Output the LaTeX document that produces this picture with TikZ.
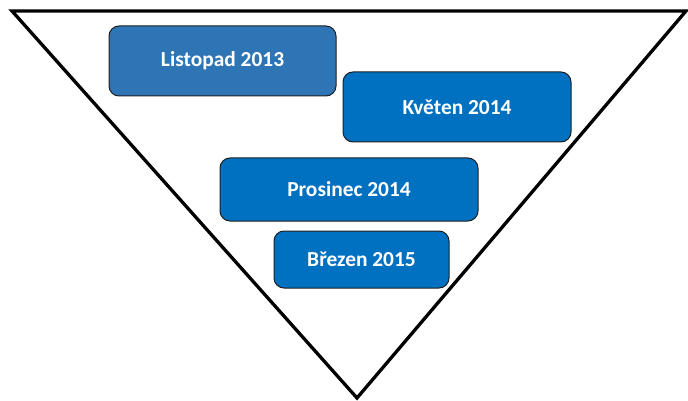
\documentclass[tikz,border=0pt]{standalone}
\usepackage{fontspec}
\setmainfont{Carlito}
\definecolor{boxA}{HTML}{2E75B6}
\definecolor{boxB}{HTML}{0070C0}
\definecolor{edge}{HTML}{1F1F1F}
\begin{document}
\begin{tikzpicture}[x=1pt,y=-1pt,
  phase/.style={draw=edge, line width=1pt, rounded corners=10pt, fill=boxB,
    text=white, font=\fontsize{21.4}{25}\selectfont\bfseries, inner sep=0pt},
  funnel/.style={draw=black, line width=3.3pt, line join=miter}]
  \useasboundingbox (0,0) rectangle (688,401);
  % inverted triangle
  \coordinate (tl) at (12,11);
  \coordinate (tr) at (686,11);
  \coordinate (bt) at (357,398);
  \draw[funnel] (tl) -- (tr) -- (bt) -- cycle;
  % phase boxes
  \node[phase, fill=boxA, minimum width=227pt, minimum height=70pt] (listopad) at (222.5,61) {Listopad 2013};
  \node[phase, minimum width=228pt, minimum height=70pt] (kveten) at (457,107) {Květen 2014};
  \node[phase, minimum width=258pt, minimum height=63pt] (prosinec) at (349,189.5) {Prosinec 2014};
  \node[phase, minimum width=175pt, minimum height=57pt] (brezen) at (361.5,259.5) {Březen 2015};
\end{tikzpicture}
\end{document}
